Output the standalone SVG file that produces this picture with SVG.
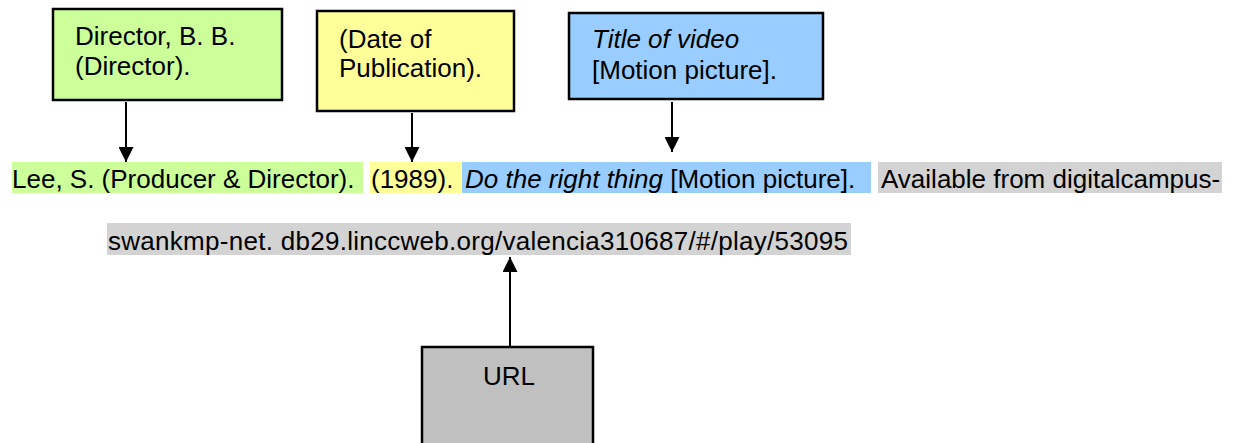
<svg xmlns="http://www.w3.org/2000/svg" width="1235" height="443" viewBox="0 0 1235 443">
<style>
text{font-family:"Liberation Sans",Arial,sans-serif;font-size:26px;fill:#000}
.box{stroke:#000;stroke-width:2.5}
.it{font-style:italic}
.conn line{stroke:#000;stroke-width:2}
</style>
<defs>
<marker id="ah" viewBox="0 0 10 10" refX="10" refY="5" markerWidth="15" markerHeight="15" markerUnits="userSpaceOnUse" orient="auto">
<path d="M0,0 L10,5 L0,10 Z" fill="#000"/>
</marker>
</defs>
<rect width="1235" height="443" fill="#fff"/>
<g id="citation">
<rect x="12" y="162" width="351" height="31" fill="#CCFF99"/>
<rect x="370" y="162" width="92" height="31" fill="#FFFF99"/>
<rect x="462" y="162" width="409" height="31" fill="#99CCFF"/>
<rect x="878" y="162" width="344" height="31" fill="#D3D3D3"/>
<rect x="107" y="223" width="744" height="32" fill="#D3D3D3"/>
<text x="12" y="188">Lee, S. (Producer &amp; Director).</text>
<text x="371" y="188">(1989).</text>
<text x="465" y="188"><tspan class="it">Do the right thing</tspan> [Motion picture].</text>
<text x="881" y="188">Available from digitalcampus-</text>
<text x="108" y="250" textLength="740">swankmp-net. db29.linccweb.org/valencia310687/#/play/53095</text>
</g>
<g id="node-director">
<rect class="box" x="53" y="9" width="229" height="91" fill="#CCFF99"/>
<text x="75" y="45">Director, B. B.</text>
<text x="75" y="75">(Director).</text>
</g>
<g id="node-date">
<rect class="box" x="317" y="11" width="197" height="100" fill="#FFFF99"/>
<text x="339" y="48">(Date of</text>
<text x="339" y="77">Publication).</text>
</g>
<g id="node-title">
<rect class="box" x="569" y="13" width="254" height="86" fill="#99CCFF"/>
<text x="592" y="48" class="it">Title of video</text>
<text x="592" y="79">[Motion picture].</text>
</g>
<g id="node-url">
<rect class="box" x="422" y="347" width="171" height="110" fill="#C0C0C0"/>
<text x="509" y="385" text-anchor="middle">URL</text>
</g>
<g class="conn" id="connectors">
<line x1="126" y1="102" x2="126" y2="162" marker-end="url(#ah)"/>
<line x1="412" y1="113" x2="412" y2="162" marker-end="url(#ah)"/>
<line x1="672" y1="102" x2="672" y2="152" marker-end="url(#ah)"/>
<line x1="510" y1="347" x2="510" y2="257" marker-end="url(#ah)"/>
</g>
</svg>
